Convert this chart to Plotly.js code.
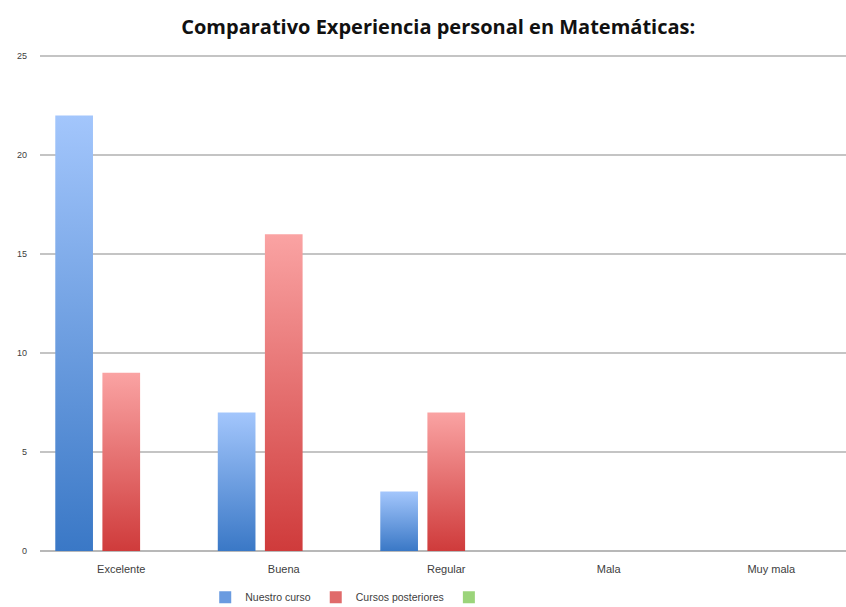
<!DOCTYPE html>
<html><head><meta charset="utf-8">
<script src="https://cdn.plot.ly/plotly-3.0.1.min.js"></script>
<style>html,body{margin:0;padding:0;background:#fff;}#chart{width:846px;height:607px;}</style>
</head><body><div id="chart"></div>
<script>
const categories = ["Excelente", "Buena", "Regular", "Mala", "Muy mala"];
const nuestroCurso = [22, 7, 3, 0, 0];
const cursosPosteriores = [9, 16, 7, 0, 0];
const tercerSerie = [0, 0, 0, 0, 0];
const yTicks = [0, 5, 10, 15, 20, 25];

const xTickFont = {family: "Liberation Sans Narrow, Liberation Sans, sans-serif", size: 11, color: "#404040"};
const yTickFont = {family: "Liberation Sans Narrow, Liberation Sans, sans-serif", size: 9, color: "#404040"};

const traces = [
  {type: "bar", x: categories, y: nuestroCurso, name: "Nuestro curso", marker: {color: "#6a9be0"}},
  {type: "bar", x: categories, y: cursosPosteriores, name: "Cursos posteriores", marker: {color: "#e06a6a"}},
  {type: "bar", x: categories, y: tercerSerie, name: " ", marker: {color: "#9bd47a"}}
];

const layout = {
  width: 846, height: 607,
  margin: {l: 40, r: 0, t: 55, b: 56, autoexpand: false},
  paper_bgcolor: "#ffffff", plot_bgcolor: "#ffffff",
  title: {text: "<b>Comparativo Experiencia personal en Matemáticas:</b>", x: 0.518, xanchor: "center", y: 0.955, yanchor: "middle",
          font: {family: "Open Sans, Liberation Sans, sans-serif", size: 20, color: "#111"}},
  barmode: "group", bargap: 0.13, bargroupgap: 0.2,
  xaxis: {range: [-0.5, 4.46], tickfont: xTickFont, showgrid: false, zeroline: false, showline: false, ticks: "", ticklabelstandoff: 10, automargin: false, fixedrange: true},
  yaxis: {range: [0, 25.06], tickvals: yTicks, tickfont: yTickFont, showgrid: true, gridcolor: "#c4c4c4", gridwidth: 1.5,
          zeroline: true, zerolinecolor: "#b8b8b8", zerolinewidth: 1.5, showline: false, ticks: "", ticklabelstandoff: 12, automargin: false, fixedrange: true},
  showlegend: true,
  legend: {orientation: "h", x: 0.205, xanchor: "left", y: -0.093, yanchor: "middle", tracegroupgap: 0,
           font: {family: "Liberation Sans Narrow, Liberation Sans, sans-serif", size: 10.5, color: "#404040"}},
  font: {family: "Liberation Sans, sans-serif"}
};

function addGradients(gd) {
  const svg = gd.querySelector("svg.main-svg");
  if (!svg) return;
  const ns = "http://www.w3.org/2000/svg";
  let defs = svg.querySelector("defs");
  if (!defs) { defs = document.createElementNS(ns, "defs"); svg.insertBefore(defs, svg.firstChild); }
  const grads = [["gBlue", "#a3c6fc", "#3a78c6"], ["gRed", "#faa3a3", "#cf3b3b"], ["gGreen", "#c8eea8", "#6fb04a"]];
  grads.forEach(([id, top, bot]) => {
    if (defs.querySelector("#" + id)) return;
    const lg = document.createElementNS(ns, "linearGradient");
    lg.setAttribute("id", id); lg.setAttribute("x1", "0"); lg.setAttribute("y1", "0"); lg.setAttribute("x2", "0"); lg.setAttribute("y2", "1");
    const s1 = document.createElementNS(ns, "stop"); s1.setAttribute("offset", "0"); s1.setAttribute("stop-color", top);
    const s2 = document.createElementNS(ns, "stop"); s2.setAttribute("offset", "1"); s2.setAttribute("stop-color", bot);
    lg.appendChild(s1); lg.appendChild(s2); defs.appendChild(lg);
  });
  const ids = ["gBlue", "gRed", "gGreen"];
  gd.querySelectorAll(".barlayer .trace").forEach((tr, i) => {
    tr.querySelectorAll("path").forEach(p => { p.style.fill = "url(#" + ids[i % 3] + ")"; });
  });
}

Plotly.newPlot("chart", traces, layout, {displayModeBar: false, staticPlot: true}).then(gd => addGradients(gd));
</script>
</body></html>
